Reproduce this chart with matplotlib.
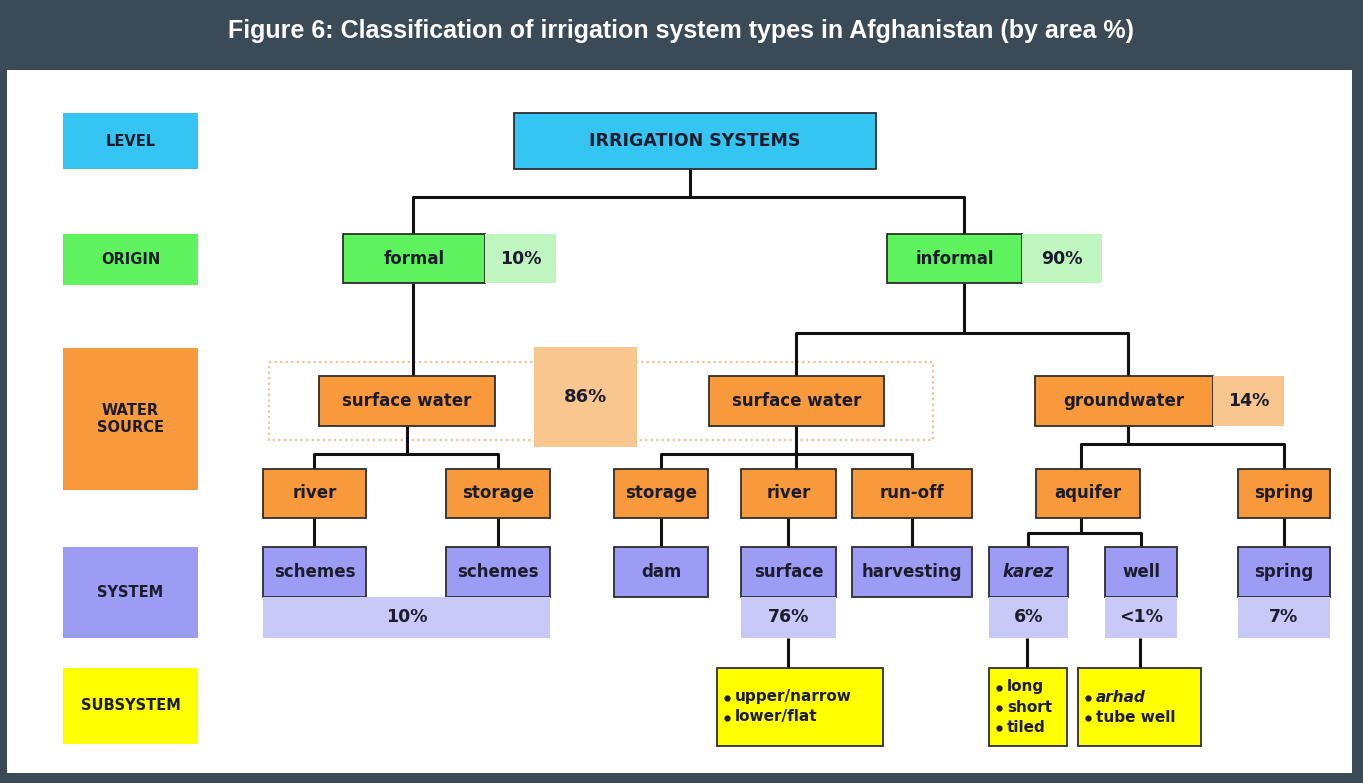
import matplotlib.pyplot as plt
from matplotlib.patches import Rectangle

# labels and shares
title = 'Figure 6: Classification of irrigation system types in Afghanistan (by area %)'
levels = ['LEVEL', 'ORIGIN', 'WATER\nSOURCE', 'SYSTEM', 'SUBSYSTEM']
origin_labels = ['formal', 'informal']
origin_share = ['10%', '90%']
source_labels = ['surface water', 'surface water', 'groundwater']
source_share = ['86%', '14%']
supply_labels = ['river', 'storage', 'storage', 'river', 'run-off', 'aquifer', 'spring']
system_labels = ['schemes', 'schemes', 'dam', 'surface', 'harvesting', 'karez', 'well', 'spring']
system_share = ['10%', '76%', '6%', '<1%', '7%']
subsystem_items = [['upper/narrow', 'lower/flat'], ['long', 'short', 'tiled'], ['arhad', 'tube well']]

# colours
dark = '#3a4a57'
blue = '#35c5f3'
green = '#5ef25e'
green_lt = '#bff5bf'
orange = '#f89a3c'
orange_lt = '#f9c690'
purple = '#9c9cf5'
purple_lt = '#c9c9f8'
yellow = '#ffff00'
txt = '#1c1c2c'

fig = plt.figure(figsize=(13.63, 7.83), dpi=100)
fig.patch.set_facecolor(dark)
ax = fig.add_axes([0, 0, 1, 1])
ax.set_xlim(0, 1363)
ax.set_ylim(783, 0)
ax.axis('off')

ax.add_patch(Rectangle((7, 70), 1345, 703, facecolor='white', edgecolor='none'))
ax.text(681, 31, title, color='white', fontsize=18, fontweight='bold',
        family='Liberation Sans', ha='center', va='center')


def box(x0, y0, x1, y1, fc, label=None, edge=True, size=12, style='normal'):
    ax.add_patch(Rectangle((x0, y0), x1 - x0, y1 - y0, facecolor=fc,
                           edgecolor='#2e2e2e' if edge else 'none', lw=1.3, zorder=3))
    if label is not None:
        ax.text((x0 + x1) / 2, (y0 + y1) / 2, label, ha='center', va='center',
                fontsize=size, fontweight='bold', color=txt, style=style, zorder=4,
                linespacing=1.15)


def line(xs, ys):
    ax.plot(xs, ys, color='#111111', lw=2.2, zorder=2, solid_capstyle='butt')


# level legend
lev_y = [(113, 169), (234, 285), (348, 490), (547, 638), (668, 744)]
lev_c = [blue, green, orange, purple, yellow]
for name, (y0, y1), c in zip(levels, lev_y, lev_c):
    box(63, y0, 198, y1, c, name, edge=False, size=10.5)

# root
box(514, 113, 876, 169, blue, 'IRRIGATION SYSTEMS', size=12.5)
line([690, 690], [169, 197])
line([413, 413, 964, 964], [234, 197, 197, 234])

# origin
ox = [(343, 485), (887, 1022)]
for (x0, x1), lab, sh, sx in zip(ox, origin_labels, origin_share, [556, 1102]):
    box(x0, 234, x1, 283, green, lab)
    box(x1, 234, sx, 283, green_lt, sh, edge=False, size=12.5)

# water source
ax.add_patch(Rectangle((269, 362), 664, 78, facecolor='none', edgecolor='#efc39a',
                       lw=1.6, ls=(0, (1, 1.5)), zorder=1))
line([413, 413], [283, 376])
line([964, 964, 964], [283, 333, 333])
line([796, 796, 1128, 1128], [376, 333, 333, 376])
sx = [(319, 495), (709, 884), (1035, 1213)]
for (x0, x1), lab in zip(sx, source_labels):
    box(x0, 376, x1, 426, orange, lab)
box(534, 347, 637, 447, orange_lt, source_share[0], edge=False, size=13)
box(1213, 376, 1284, 426, orange_lt, source_share[1], edge=False, size=12.5)

# supply type
px = [(263, 366), (446, 550), (614, 708), (741, 836), (852, 972), (1036, 1140), (1238, 1330)]
for (x0, x1), lab in zip(px, supply_labels):
    box(x0, 469, x1, 518, orange, lab)
line([407, 407], [426, 454])
line([314, 314, 498, 498], [469, 454, 454, 469])
line([796, 796], [426, 469])
line([661, 661, 912, 912], [469, 454, 454, 469])
line([1128, 1128], [426, 444])
line([1081, 1081, 1284, 1284], [469, 444, 444, 469])

# system
syx = [(263, 366), (446, 550), (614, 708), (741, 836), (852, 972), (989, 1068), (1105, 1177), (1238, 1330)]
for (x0, x1), lab in zip(syx, system_labels):
    box(x0, 547, x1, 597, purple, lab, style='italic' if lab == 'karez' else 'normal')
for xc in [314, 498, 661, 788, 912, 1284]:
    line([xc, xc], [518, 547])
line([1081, 1081], [518, 533])
line([1028, 1028, 1141, 1141], [547, 533, 533, 547])

shx = [(263, 550), (741, 836), (989, 1068), (1105, 1177), (1238, 1330)]
for (x0, x1), sh in zip(shx, system_share):
    box(x0, 597, x1, 638, purple_lt, sh, edge=False, size=12.5)

# subsystem
sbx = [(717, 883), (989, 1067), (1078, 1201)]
for (x0, x1), items, xc in zip(sbx, subsystem_items, [788, 1027, 1140]):
    line([xc, xc], [638, 668])
    box(x0, 668, x1, 746, yellow)
    n = len(items)
    for i, it in enumerate(items):
        yy = 707 + (i - (n - 1) / 2) * 20
        ax.plot([x0 + 10], [yy + 1], 'o', ms=3.5, color=txt, zorder=4)
        ax.text(x0 + 18, yy, it, ha='left', va='center', fontsize=11, fontweight='bold',
                color=txt, zorder=4, style='italic' if it == 'arhad' else 'normal')

fig.savefig('out.png', dpi=100, facecolor=dark)
